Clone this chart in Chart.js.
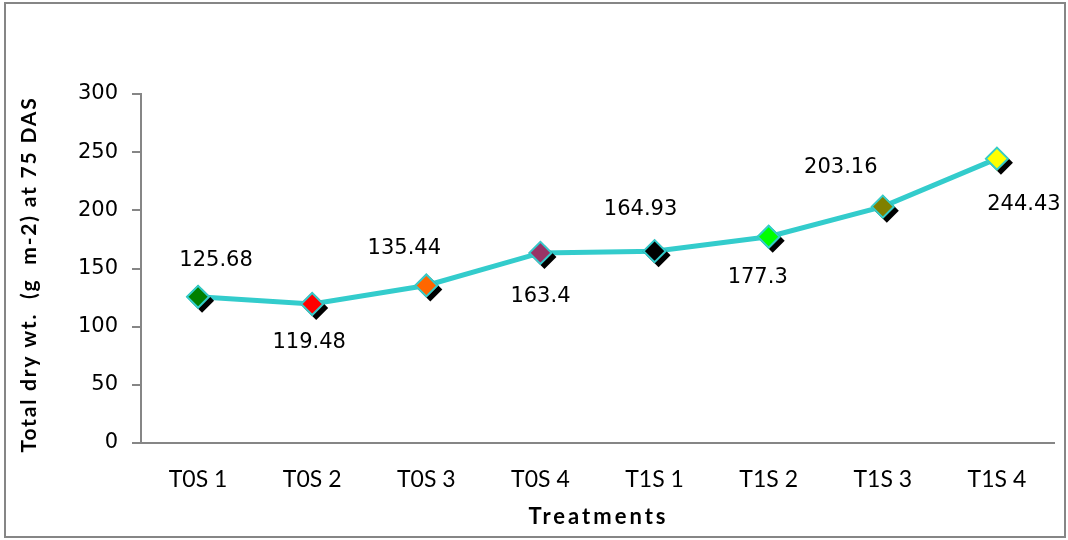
<!DOCTYPE html>
<html>
<head>
<meta charset="utf-8">
<script src="https://cdn.jsdelivr.net/npm/chart.js@4"></script>
<style>
  html, body { margin: 0; padding: 0; background: #fff; }
  #wrap { width: 1068px; height: 540px; }
</style>
</head>
<body>
<div id="wrap"><canvas id="dryWtChart" width="1068" height="540"></canvas></div>
<script>
// Treatments and total dry weight at 75 DAS
const treatments = ['T0S 1', 'T0S 2', 'T0S 3', 'T0S 4', 'T1S 1', 'T1S 2', 'T1S 3', 'T1S 4'];
const dryWeight = [125.68, 119.48, 135.44, 163.4, 164.93, 177.3, 203.16, 244.43];
const markerColors = ['#008000', '#FF0000', '#FF6600', '#993366', '#000000', '#00FF00', '#808000', '#FFFF00'];
const yTicks = [0, 50, 100, 150, 200, 250, 300];

// where each value label sits relative to its marker (px)
const labelOffsets = [[18, -36], [-3, 39], [-22, -37], [0, 44], [-14, -42], [-11, 41], [-42, -39], [27, 46]];

const AXIS_GREY = '#868686';
const LINE_TEAL = '#33CCCC';
const MARKER_R = 12;

// white background and outer frame
const framePlugin = {
  id: 'frame',
  beforeDraw(chart) {
    const ctx = chart.ctx;
    ctx.save();
    ctx.fillStyle = '#fff';
    ctx.fillRect(0, 0, chart.width, chart.height);
    ctx.strokeStyle = AXIS_GREY;
    ctx.lineWidth = 2;
    ctx.strokeRect(5, 3, 1060, 534);
    ctx.restore();
  }
};

// black drop shadow under the filled diamonds (dataset 1 only)
const markerShadow = {
  id: 'markerShadow',
  beforeDatasetDraw(chart, args) {
    if (args.index !== 1) return;
    const ctx = chart.ctx;
    ctx.shadowColor = '#000';
    ctx.shadowOffsetX = 4;
    ctx.shadowOffsetY = 4;
    ctx.shadowBlur = 0;
  },
  afterDatasetDraw(chart, args) {
    if (args.index !== 1) return;
    const ctx = chart.ctx;
    ctx.shadowColor = 'rgba(0,0,0,0)';
    ctx.shadowOffsetX = 0;
    ctx.shadowOffsetY = 0;
  }
};

// value labels next to each marker
const valueLabels = {
  id: 'valueLabels',
  afterDatasetsDraw(chart) {
    const ctx = chart.ctx;
    const meta = chart.getDatasetMeta(1);
    ctx.save();
    ctx.font = '21px "DejaVu Sans"';
    ctx.fillStyle = '#000';
    ctx.textAlign = 'center';
    ctx.textBaseline = 'middle';
    meta.data.forEach((pt, i) => {
      const off = labelOffsets[i];
      ctx.fillText(String(dryWeight[i]), pt.x + off[0], pt.y + off[1]);
    });
    ctx.restore();
  }
};

// axis titles, bold with a little letter spacing
const axisTitles = {
  id: 'axisTitles',
  afterDraw(chart) {
    const ctx = chart.ctx;
    const area = chart.chartArea;
    ctx.save();
    ctx.fillStyle = '#000';
    ctx.textAlign = 'center';
    ctx.textBaseline = 'middle';
    ctx.font = 'bold 22px Lato';
    ctx.letterSpacing = '3px';
    ctx.fillText('Treatments', (area.left + area.right) / 2 + 1, 517);

    ctx.font = 'bold 21px Lato';
    ctx.letterSpacing = '1.8px';
    ctx.translate(29, (area.top + area.bottom) / 2 + 6);
    ctx.rotate(-Math.PI / 2);
    ctx.fillText('Total dry wt.  (g  m-2) at 75 DAS', 0, 0);
    ctx.restore();
  }
};

new Chart(document.getElementById('dryWtChart').getContext('2d'), {
  type: 'line',
  data: {
    labels: treatments,
    datasets: [{
      label: 'line',
      data: dryWeight,
      order: 3,
      borderColor: LINE_TEAL,
      borderWidth: 5,
      pointRadius: 0,
      tension: 0,
      fill: false
    }, {
      label: 'fill',
      data: dryWeight,
      order: 2,
      showLine: false,
      pointStyle: 'rectRot',
      pointRadius: MARKER_R,
      pointBackgroundColor: markerColors,
      pointBorderWidth: 0
    }, {
      label: 'outline',
      data: dryWeight,
      order: 1,
      showLine: false,
      pointStyle: 'rectRot',
      pointRadius: MARKER_R - 1,
      pointBackgroundColor: 'rgba(0,0,0,0)',
      pointBorderColor: LINE_TEAL,
      pointBorderWidth: 2
    }]
  },
  options: {
    responsive: false,
    animation: false,
    layout: { padding: { top: 94, right: 14, bottom: 0, left: 0 } },
    plugins: {
      legend: { display: false },
      tooltip: { enabled: false }
    },
    scales: {
      x: {
        offset: true,
        grid: { display: true, drawOnChartArea: false, drawTicks: false },
        border: { color: AXIS_GREY, width: 2 },
        ticks: {
          padding: 23,
          color: '#000',
          font: { family: 'Lato', size: 23 },
          maxRotation: 0
        },
        afterFit(scale) { scale.height = 97; }
      },
      y: {
        min: 0,
        max: 300,
        afterBuildTicks(scale) { scale.ticks = yTicks.map(v => ({ value: v })); },
        grid: { drawOnChartArea: false, drawTicks: true, tickLength: 9, color: AXIS_GREY, lineWidth: 2 },
        border: { color: AXIS_GREY, width: 2 },
        ticks: {
          padding: 14,
          color: '#000',
          font: { family: 'DejaVu Sans', size: 21 }
        },
        afterFit(scale) { scale.width = 141; }
      }
    }
  },
  plugins: [framePlugin, markerShadow, valueLabels, axisTitles]
});
</script>
</body>
</html>
